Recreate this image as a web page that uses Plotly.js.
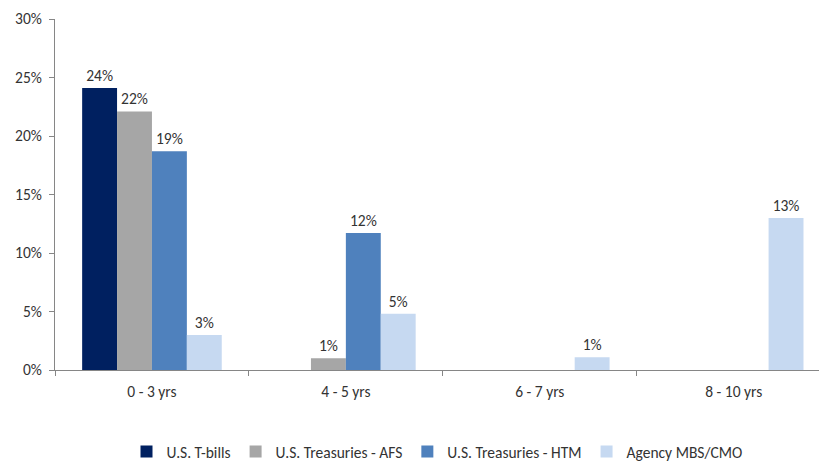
<!DOCTYPE html>
<html>
<head>
<meta charset="utf-8">
<script src="https://cdn.plot.ly/plotly-3.0.1.min.js"></script>
<style>
html,body{margin:0;padding:0;overflow:hidden;background:#fff;}
#chart{width:819px;height:465px;}
</style>
</head>
<body>
<div id="chart"></div>
<script>
const categories = ["0 - 3 yrs", "4 - 5 yrs", "6 - 7 yrs", "8 - 10 yrs"];
const tBills = [24.1, null, null, null];
const treasuriesAFS = [22.1, 1.0, null, null];
const treasuriesHTM = [18.7, 11.7, null, null];
const agencyMBS = [3.0, 4.8, 1.1, 13.0];
const seriesNames = ["U.S. T-bills", "U.S. Treasuries - AFS", "U.S. Treasuries - HTM", "Agency MBS/CMO"];
const yTicks = [0, 5, 10, 15, 20, 25, 30];

const colors = ["#002060", "#A6A6A6", "#4F81BD", "#C6D9F1"];
const FONT = "Carlito, Calibri, Lato, 'Liberation Sans', sans-serif";
const TXT = "#333333";
const seriesVals = [tBills, treasuriesAFS, treasuriesHTM, agencyMBS];

const traces = seriesVals.map((vals, i) => ({
  type: "bar",
  name: seriesNames[i],
  x: categories,
  y: vals,
  marker: {color: colors[i]},
  texttemplate: "%{y:.0f}%",
  textposition: "outside",
  cliponaxis: false,
  textfont: {family: FONT, size: 15.5, color: TXT},
  hoverinfo: "skip"
}));

const layout = {
  width: 819,
  height: 465,
  margin: {l: 55, r: 0, t: 19, b: 95, autoexpand: false},
  paper_bgcolor: "#fff",
  plot_bgcolor: "#fff",
  barmode: "group",
  bargap: 0.28,
  bargroupgap: 0,
  font: {family: FONT, size: 15.5, color: TXT},
  xaxis: {
    type: "category",
    range: [-0.5, 3.44],
    automargin: false,
    showline: true,
    linecolor: "#868686",
    linewidth: 1,
    ticks: "outside",
    tickson: "boundaries",
    ticklen: 5,
    tickcolor: "#868686",
    ticklabelstandoff: 7,
    showgrid: false,
    zeroline: false,
    tickfont: {family: FONT, size: 15.5, color: TXT}
  },
  yaxis: {
    range: [0, 30],
    automargin: false,
    tickvals: yTicks,
    ticktext: yTicks.map(v => v + "%"),
    showline: true,
    linecolor: "#868686",
    linewidth: 1,
    ticks: "outside",
    ticklen: 5,
    tickcolor: "#868686",
    ticklabelstandoff: 4,
    showgrid: false,
    zeroline: false,
    tickfont: {family: FONT, size: 15.5, color: TXT}
  },
  showlegend: true,
  legend: {
    orientation: "h",
    x: 0.5,
    xanchor: "center",
    yref: "container",
    y: 0.028,
    yanchor: "middle",
    font: {family: FONT, size: 15.5, color: TXT},
    itemwidth: 30,
    traceorder: "normal"
  }
};

Plotly.newPlot("chart", traces, layout, {staticPlot: true, displayModeBar: false});
</script>
</body>
</html>
